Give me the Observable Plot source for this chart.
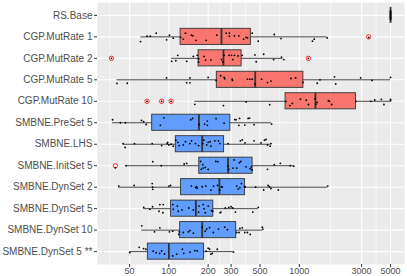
<!DOCTYPE html>
<html><head><meta charset="utf-8">
<script src="https://cdn.jsdelivr.net/npm/d3@7"></script>
<script src="https://cdn.jsdelivr.net/npm/@observablehq/plot@0.6"></script>
<style>
body{margin:0;background:#fff;}
svg{font-family:"Liberation Sans",Arial,sans-serif;}
g[aria-label="x-axis tick"], g[aria-label="y-axis tick"]{stroke:#333333;}
g[aria-label="y-axis tick label"]{fill:#4D4D4D;}
</style></head><body><div id="chart"></div>
<script>
const categories = ["RS.Base","CGP.MutRate 1","CGP.MutRate 2","CGP.MutRate 5","CGP.MutRate 10","SMBNE.PreSet 5","SMBNE.LHS","SMBNE.InitSet 5","SMBNE.DynSet 2","SMBNE.DynSet 5","SMBNE.DynSet 10","SMBNE.DynSet 5 **"];
const groups = ["RS","CGP","CGP","CGP","CGP","SMBNE","SMBNE","SMBNE","SMBNE","SMBNE","SMBNE","SMBNE"];
const whiskerLow  = [5000, 61, 105, 40, 158, 37, 44.6, 47, 41.3, 64.2, 62, 50.1];
const quartile1   = [5000, 123, 169, 233, 784, 74.5, 113, 171, 124, 104, 122, 69];
const medians     = [5000, 253, 262, 459, 1328, 170, 180, 284, 244, 161, 180, 100];
const quartile3   = [5000, 425, 361, 1074, 2716, 296, 265, 438, 384, 219, 328, 186];
const whiskerHigh = [5000, 1634, 750, 5000, 5000, 613, 606, 906, 1650, 484, 523, 313];
const outlierRows   = [2, 3, 3, 5, 5, 5, 8];
const outlierValues = [3400, 36.3, 1173, 68, 88, 104, 38.9];
const xTicks = [50, 100, 200, 300, 500, 1000, 3000, 5000];
const groupColors = {CGP: "#F8766D", RS: "#00BA38", SMBNE: "#619CFF"};

// jittered observations: [value, vertical jitter in category units]
const ptsRSBase = [[5000,-.2],[5000,-.15],[5000,-.1],[5000,-.05],[5000,0],[5000,.05],[5000,.1],[5000,.15],[5000,.2],[5000,-.18],[5000,.12],[5000,-.08],[5000,.03]];
const ptsMut1 = [[60.6,.22],[68,-.03],[72,-.03],[80,-.17],[96,.14],[101,-.08],[108,.06],[123,.02],[129,.11],[134,-.17],[149,-.08],[153,-.05],[161,.16],[193,.16],[233,-.08],[275,-.17],[291,-.17],[291,-.03],[318,-.05],[344,-.05],[374,.11],[391,.02],[400,.05],[435,-.17],[484,.2],[642,-.11],[723,.08],[1260,.2],[1300,.11],[1634,.05],[3400,.03]];
const ptsMut2 = [[36.3,0],[105,.14],[113,.11],[117,-.14],[137,.14],[154,-.09],[165,-.14],[169,.02],[169,.17],[186,-.09],[191,.08],[210,.08],[253,.06],[259,.17],[265,-.14],[289,-.14],[302,-.14],[309,.06],[318,-.14],[339,-.11],[365,-.14],[457,-.16],[467,.16],[533,-.19],[635,.06],[730,-.06],[760,.06],[1173,0]];
const ptsMut5 = [[40,.17],[48,.16],[96,-.09],[137,.14],[145,-.09],[145,.14],[200,-.11],[230,.03],[250,-.19],[265,-.11],[268,-.05],[306,-.03],[307,.03],[400,-.03],[417,-.03],[435,-.03],[456,.19],[514,-.03],[570,.13],[606,.06],[863,-.06],[937,-.09],[1068,.12],[1370,.16],[1440,0],[1860,-.14],[1900,.19],[2950,-.09],[3600,.03],[5000,-.11]];
const ptsMut10 = [[68,0],[88,0],[104,0],[158,.14],[262,.2],[391,.03],[593,.16],[790,0],[845,.2],[883,.1],[1020,-.1],[1130,-.05],[1173,.15],[1320,-.12],[1340,.13],[1370,.05],[1670,-.03],[1700,0],[1770,.15],[2716,0],[3530,0],[3780,-.06],[4250,-.09],[4450,.15],[5000,-.09],[5000,-.03]];
const ptsPreSet5 = [[37,-.14],[42.5,0],[46.5,0],[61.7,-.11],[64,-.05],[67,.08],[86,.12],[91.5,-.23],[147,-.14],[152,-.2],[170,.08],[188,.06],[197,-.08],[197,.12],[230,-.19],[265,.02],[320,-.15],[327,-.14],[344,.12],[348,-.2],[382,.11],[405,-.2],[415,-.22],[450,.09],[613,.06]];
const ptsLHS = [[44.6,-.03],[46.2,.15],[54.5,-.03],[74.5,-.03],[88,.06],[97,-.03],[98,-.09],[100,.03],[104,0],[108,.09],[113,-.19],[117,-.09],[120,.06],[129,.03],[134,-.12],[145,-.03],[149,-.16],[160,-.03],[169,.06],[182,-.03],[185,-.19],[195,.03],[200,-.09],[207,-.12],[210,.09],[225,-.16],[240,-.16],[246,-.03],[284,-.03],[353,-.16],[365,-.2],[383,-.06],[450,-.16],[508,-.06],[540,-.19],[555,-.22],[570,.03],[598,.09],[606,-.03]];
const ptsInitSet5 = [[38.9,.1],[47,0],[75.3,-.19],[87.4,0],[131,-.08],[137,-.11],[175,-.2],[177,.17],[182,-.05],[183,.11],[190,.08],[200,.17],[229,-.2],[237,-.19],[284,.02],[288,.17],[310,.11],[316,-.27],[331,.11],[348,-.14],[356,-.2],[390,.05],[420,.14],[428,.05],[435,.2],[570,.17],[642,-.05],[715,-.11],[852,0],[906,.02]];
const ptsDynSet2 = [[41.3,-.05],[54.2,-.08],[74.5,-.17],[75,0],[75.3,.1],[100,-.05],[103,-.08],[149,-.05],[160,.02],[163,-.02],[165,.05],[180,-.02],[192,-.05],[210,.14],[220,-.05],[236,-.08],[245,.13],[253,-.02],[256,0],[331,-.05],[340,.09],[350,.02],[360,-.17],[380,-.02],[384,-.02],[462,0],[533,.13],[576,-.08],[590,-.02],[606,.06],[690,.13],[1650,-.05]];
const ptsDynSet5 = [[64.2,-.06],[71.5,.03],[75,-.09],[84,.12],[85.3,-.19],[90,.19],[90.5,-.19],[107,-.19],[108,.03],[116,-.12],[118,.12],[126,.06],[142,-.03],[154,.06],[169,.16],[170,-.12],[183,-.19],[186,0],[190,.19],[200,-.12],[212,.09],[217,.12],[247,.19],[250,.16],[271,-.03],[288,-.06],[300,-.09],[309,-.03],[324,.16],[440,.16],[484,-.06]];
const ptsDynSet10 = [[62,-.2],[77.6,.08],[85.3,-.11],[101,.08],[107,.05],[119,.2],[120,.08],[129,.11],[141,.08],[145,.02],[154,.14],[180,-.14],[190,.05],[195,-.05],[205,-.12],[219,.11],[240,-.05],[268,-.14],[281,-.02],[331,.11],[345,.11],[350,-.08],[365,-.11],[382,.11],[400,.11],[420,.2],[520,-.14],[526,-.05]];
const ptsDynSet5b = [[50.1,.05],[59.2,-.2],[64,-.14],[66.6,-.11],[75.8,-.02],[80,.05],[85,.08],[88,-.03],[92.7,.11],[107,.2],[115,.12],[127,-.11],[130,.08],[145,.02],[158,-.05],[165,-.03],[193,-.02],[200,-.16],[205,-.11],[210,.12],[215,.08],[235,-.11],[313,.02]];
const pointsByRow = [ptsRSBase, ptsMut1, ptsMut2, ptsMut5, ptsMut10, ptsPreSet5, ptsLHS, ptsInitSet5, ptsDynSet2, ptsDynSet5, ptsDynSet10, ptsDynSet5b];

// tables built from the arrays
const rows = categories.map((c, i) => ({row: i + 1, group: groups[i], lo: whiskerLow[i], q1: quartile1[i], med: medians[i], q3: quartile3[i], hi: whiskerHigh[i]}));
const points = pointsByRow.flatMap((arr, i) => arr.map(([v, j]) => ({row: i + 1, value: v, jitter: j})));
const outliers = outlierRows.map((r, i) => ({row: r, value: outlierValues[i]}));
const rowIdx = rows.map(d => d.row);

// x domain: data extent in log space, expanded 5% each side (ggplot default)
const allVals = [...points.map(d => d.value), ...whiskerLow, ...whiskerHigh, ...outlierValues];
const [lmin, lmax] = d3.extent(allVals, v => Math.log10(v));
const pad = (lmax - lmin) * 0.05;
const xDomain = [Math.pow(10, lmin - pad), Math.pow(10, lmax + pad)];

// minor grid: geometric midpoints between (extended) major breaks
const ext = [xTicks[0] * xTicks[0] / xTicks[1], ...xTicks, xTicks[xTicks.length-1] * xTicks[xTicks.length-1] / xTicks[xTicks.length-2]];
const minorBreaks = d3.pairs(ext).map(([a, b]) => Math.sqrt(a * b)).filter(v => v > xDomain[0] && v < xDomain[1]);

const half = 0.375;
const chart = Plot.plot({
  width: 407, height: 276,
  marginLeft: 97, marginRight: 3, marginTop: 2, marginBottom: 12,
  style: {fontFamily: "'Liberation Sans', Arial, sans-serif", background: "white", overflow: "visible"},
  x: {type: "log", domain: xDomain},
  y: {domain: [categories.length + 0.6, 0.4]},
  marks: [
    Plot.frame({fill: "#EBEBEB", stroke: null}),
    Plot.ruleX(minorBreaks, {stroke: "white", strokeWidth: 0.6}),
    Plot.ruleX(xTicks, {stroke: "white", strokeWidth: 1.1}),
    Plot.ruleY(rowIdx, {stroke: "white", strokeWidth: 1.1}),
    Plot.ruleY(rows, {y: "row", x1: "lo", x2: "hi", stroke: "#333333", strokeWidth: 0.9}),
    Plot.rect(rows, {x1: "q1", x2: "q3", y1: d => d.row - half, y2: d => d.row + half, fill: d => groupColors[d.group], stroke: "#333333", strokeWidth: 0.9}),
    Plot.ruleX(rows, {x: "med", y1: d => d.row - half, y2: d => d.row + half, stroke: "#333333", strokeWidth: 1.8}),
    Plot.dot(outliers, {x: "value", y: "row", r: 2.2, stroke: "red", strokeWidth: 0.8, fill: "none"}),
    Plot.dot(points, {x: "value", y: d => d.row + d.jitter, r: 0.9, fill: "black", stroke: null}),
    Plot.axisX({ticks: xTicks, tickSize: 3, tickFormat: () => "", label: null}),
    Plot.text(xTicks, {x: d => d, text: d => String(d), frameAnchor: "bottom", lineAnchor: "top", dy: 3.5, fontSize: 9, fill: "#4D4D4D"}),
    Plot.axisY({ticks: rowIdx, tickFormat: i => categories[i - 1], tickSize: 3, tickPadding: 2, fontSize: 10, label: null})
  ]
});
document.getElementById("chart").appendChild(chart);
</script></body></html>
